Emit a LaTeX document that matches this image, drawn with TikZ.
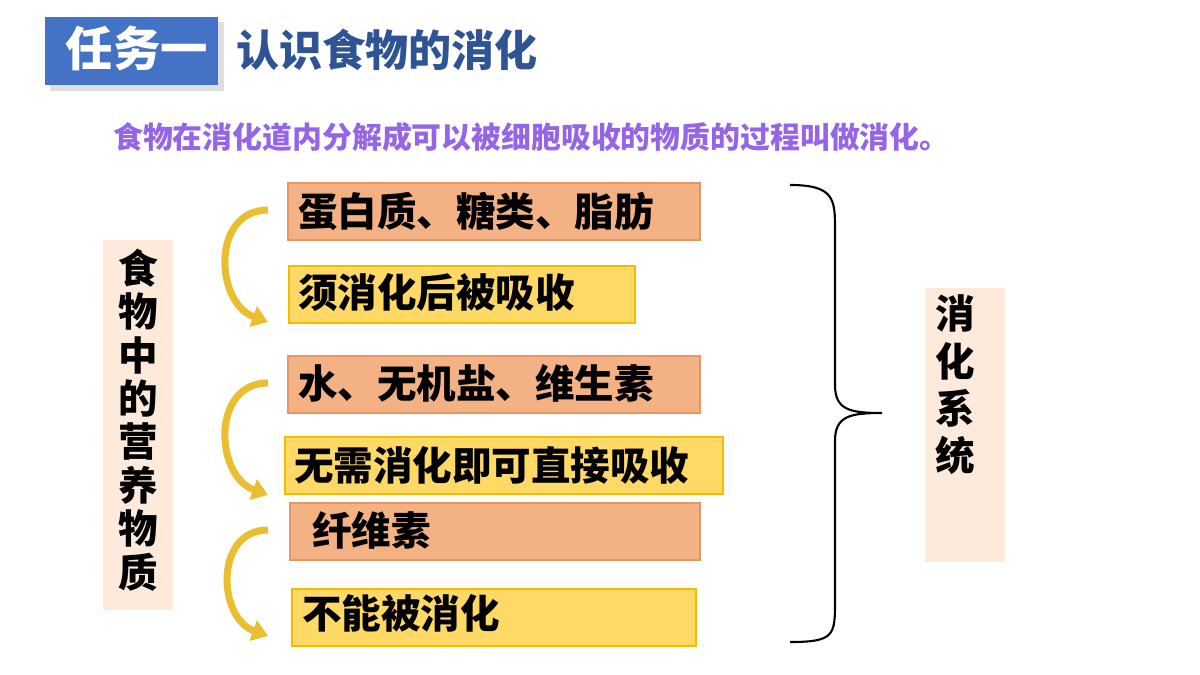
\documentclass[tikz,border=0pt]{standalone}
\usepackage{fontspec}
\setmainfont{Noto Sans CJK SC}
\usetikzlibrary{arrows.meta}
\definecolor{titleblue}{RGB}{68,114,196}
\definecolor{darkblue}{RGB}{47,84,150}
\definecolor{violet}{RGB}{150,100,230}
\definecolor{peach}{RGB}{244,177,131}
\definecolor{peachline}{RGB}{230,150,100}
\definecolor{gold}{RGB}{255,217,102}
\definecolor{goldline}{RGB}{240,190,0}
\definecolor{arrowgold}{RGB}{235,190,50}
\definecolor{pinkbg}{RGB}{253,234,218}
\tikzset{
  orangebox/.style={draw=peachline, fill=peach, line width=0.8pt},
  yellowbox/.style={draw=goldline, fill=gold, line width=0.8pt},
  item/.style={anchor=west, font=\fontsize{22.5}{26}\selectfont\bfseries},
  curlarrow/.style={draw=arrowgold, line width=4pt, -{Triangle[length=9pt,width=12pt]}},
}
\begin{document}
\begin{tikzpicture}[x=0.02cm, y=-0.02cm]
				\useasboundingbox (0,0) rectangle (1200,675);
				\fill[gray!25] (50,22) rectangle (224,91);
				\fill[titleblue] (45,17) rectangle (218,85);
				\node[text=white, font=\fontsize{27}{30}\selectfont\bfseries] (task) at (137,48) {任务一};
				\node[anchor=west, text=darkblue, font=\fontsize{24.5}{28}\selectfont\bfseries] (title) at (230,50) {认识食物的消化};
				\node[anchor=west, text=violet, font=\fontsize{17}{20}\selectfont\bfseries] (def) at (107,137) {食物在消化道内分解成可以被细胞吸收的物质的过程叫做消化。};
				% left and right labels
				\fill[pinkbg] (103,240) rectangle (173,610);
				\node[align=center, font=\fontsize{22.5}{24.7}\selectfont\bfseries] (food) at (138,420) {食\\物\\中\\的\\营\\养\\物\\质};
				\fill[pinkbg] (925,288) rectangle (1005,562);
				\node[align=center, font=\fontsize{22.5}{27}\selectfont\bfseries] (sys) at (955,385) {消\\化\\系\\统};
				% boxes
				\draw[orangebox] (288,183) rectangle (700,240);
				\node[item] (b1) at (292,211) {蛋白质、糖类、脂肪};
				\draw[yellowbox] (289,266) rectangle (635,323);
				\node[item] (b2) at (292,293) {须消化后被吸收};
				\draw[orangebox] (288,356) rectangle (700,413);
				\node[item] (b3) at (292,383) {水、无机盐、维生素};
				\draw[yellowbox] (285,437) rectangle (723,494);
				\node[item] (b4) at (288,465) {无需消化即可直接吸收};
				\draw[orangebox] (290,503) rectangle (700,560);
				\node[item] (b5) at (306,530) {纤维素};
				\draw[yellowbox] (292,589) rectangle (696,646);
				\node[item] (b6) at (296,613) {不能被消化};
				% arrows
				\coordinate (a1) at (268,210); \coordinate (a2) at (268,322);
				\coordinate (a3) at (268,383); \coordinate (a4) at (268,495);
				\coordinate (a5) at (268,530); \coordinate (a6) at (268,636);
				\draw[curlarrow] (a1) to[out=180, in=160, looseness=1.3] (a2);
				\draw[curlarrow] (a3) to[out=180, in=160, looseness=1.3] (a4);
				\draw[curlarrow] (a5) to[out=180, in=160, looseness=1.3] (a6);
				% brace
				\draw[line width=1.2pt] (790,185) .. controls (835,185) and (835,200) .. (835,230)
				  -- (835,385) .. controls (835,410) and (850,413) .. (882,413)
				  .. controls (850,413) and (835,416) .. (835,441)
				  -- (835,600) .. controls (835,635) and (835,642) .. (790,642);
\end{tikzpicture}
\end{document}
